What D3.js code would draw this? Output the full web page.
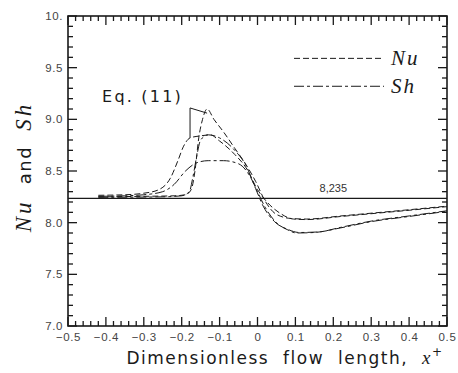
<!DOCTYPE html>
<html>
<head>
<meta charset="utf-8">
<script src="https://cdn.jsdelivr.net/npm/d3@7"></script>
<style>
  body { margin: 0; background: #fff; }
  svg { display: block; }
</style>
</head>
<body>
<svg id="chart" width="458" height="373"></svg>
<script>
// tick labels as printed on the figure
const xTickValues = [-0.5, -0.4, -0.3, -0.2, -0.1, 0, 0.1, 0.2, 0.3, 0.4, 0.5];
const xTickLabels = ["\u22120.5", "\u22120.4", "\u22120.3", "\u22120.2", "\u22120.1", "0", "0.1", "0.2", "0.3", "0.4", "0.5"];
const yTickValues = [7, 7.5, 8, 8.5, 9, 9.5, 10];
const yTickLabels = ["7.0", "7.5", "8.0", "8.5", "9.0", "9.5", "10."];

// fully developed value
const refValue = 8.235;

// Nu, gradual rise
const nuGradual = [
  [-0.42, 8.265], [-0.35, 8.27], [-0.3, 8.285], [-0.26, 8.32], [-0.23, 8.43],
  [-0.21, 8.6], [-0.195, 8.74], [-0.178, 8.82], [-0.15, 8.84], [-0.125, 8.85],
  [-0.1, 8.79], [-0.06, 8.66], [-0.03, 8.53], [0.0, 8.32], [0.025, 8.2],
  [0.06, 8.09], [0.095, 8.035], [0.13, 8.03], [0.22, 8.06], [0.31, 8.09],
  [0.4, 8.12], [0.5, 8.155]
];
// Sh, gradual rise
const shGradual = [
  [-0.42, 8.255], [-0.35, 8.26], [-0.3, 8.27], [-0.25, 8.3], [-0.22, 8.37],
  [-0.19, 8.5], [-0.16, 8.58], [-0.13, 8.6], [-0.09, 8.6], [-0.05, 8.57],
  [-0.02, 8.45], [0.0, 8.3], [0.02, 8.15], [0.05, 8.0], [0.08, 7.93],
  [0.103, 7.9], [0.15, 7.905], [0.22, 7.95], [0.3, 8.01], [0.4, 8.06], [0.5, 8.11]
];
// Nu, steep rise
const nuSteep = [
  [-0.42, 8.25], [-0.3, 8.255], [-0.22, 8.26], [-0.19, 8.27], [-0.175, 8.32],
  [-0.165, 8.5], [-0.155, 8.82], [-0.145, 9.0], [-0.133, 9.1], [-0.115, 9.0],
  [-0.09, 8.88], [-0.06, 8.72], [-0.03, 8.56], [-0.005, 8.4], [0.02, 8.21],
  [0.05, 8.08], [0.09, 8.04], [0.13, 8.035], [0.22, 8.065], [0.31, 8.095],
  [0.4, 8.125], [0.5, 8.16]
];
// Sh, steep rise
const shSteep = [
  [-0.42, 8.245], [-0.25, 8.25], [-0.2, 8.26], [-0.18, 8.3], [-0.17, 8.45],
  [-0.16, 8.65], [-0.15, 8.8], [-0.13, 8.85], [-0.1, 8.82], [-0.06, 8.7],
  [-0.03, 8.55], [-0.005, 8.33], [0.015, 8.16], [0.045, 8.01], [0.08, 7.935],
  [0.11, 7.905], [0.16, 7.91], [0.22, 7.955], [0.3, 8.015], [0.4, 8.065], [0.5, 8.115]
];
// Eq. (11) segment
const eq11 = [[-0.178, 8.82], [-0.178, 9.11], [-0.133, 9.06]];

const svg = d3.select("#chart");
const margin = { top: 16, right: 11, bottom: 47, left: 68 };
const W = 458, H = 373;

const x = d3.scaleLinear().domain([-0.5, 0.5]).range([margin.left, W - margin.right]);
const y = d3.scaleLinear().domain([7, 10]).range([H - margin.bottom, margin.top]);

const ink = "#1a1a1a";
const tickFont = "'Liberation Sans', Arial, sans-serif";
const x0 = x(-0.5), x1 = x(0.5), y0 = y(7), y1 = y(10);

// inward ticks on all four sides
const isMajorX = v => Math.abs(v * 10 - Math.round(v * 10)) < 1e-6;
const isMajorY = v => Math.abs(v * 2 - Math.round(v * 2)) < 1e-6;
const ticks = svg.append("g").attr("stroke", ink).attr("stroke-width", 1.3);
ticks.append("g").selectAll("line").data(x.ticks(50)).join("line")
  .attr("x1", d => x(d)).attr("x2", d => x(d))
  .attr("y1", y0).attr("y2", d => y0 - (isMajorX(d) ? 9 : 5));
ticks.append("g").selectAll("line").data(x.ticks(50)).join("line")
  .attr("x1", d => x(d)).attr("x2", d => x(d))
  .attr("y1", y1).attr("y2", d => y1 + (isMajorX(d) ? 9 : 5));
ticks.append("g").selectAll("line").data(y.ticks(30)).join("line")
  .attr("y1", d => y(d)).attr("y2", d => y(d))
  .attr("x1", x0).attr("x2", d => x0 + (isMajorY(d) ? 9 : 5));
ticks.append("g").selectAll("line").data(y.ticks(30)).join("line")
  .attr("y1", d => y(d)).attr("y2", d => y(d))
  .attr("x1", x1).attr("x2", d => x1 - (isMajorY(d) ? 9 : 5));

// tick labels through the axis generators
svg.append("g")
  .attr("class", "xaxis")
  .attr("transform", `translate(0,${y0})`)
  .call(d3.axisBottom(x).tickValues(xTickValues).tickSize(0).tickPadding(7)
    .tickFormat((d, i) => xTickLabels[i]));
svg.append("g")
  .attr("class", "yaxis")
  .attr("transform", `translate(${x0},0)`)
  .call(d3.axisLeft(y).tickValues(yTickValues).tickSize(0).tickPadding(5)
    .tickFormat((d, i) => yTickLabels[i]));

svg.selectAll(".domain").remove();
svg.selectAll(".tick line").remove();
svg.selectAll(".tick text")
  .attr("font-family", tickFont)
  .attr("font-size", 11.5)
  .attr("letter-spacing", 0.6)
  .attr("fill", "#444");
svg.selectAll(".yaxis .tick text").attr("dy", "0.3em");

// frame
svg.append("rect")
  .attr("x", x0).attr("y", y1)
  .attr("width", x1 - x0).attr("height", y0 - y1)
  .attr("fill", "none").attr("stroke", ink).attr("stroke-width", 1.6);

// reference line
svg.append("line")
  .attr("x1", x0).attr("x2", x1)
  .attr("y1", y(refValue)).attr("y2", y(refValue))
  .attr("stroke", ink).attr("stroke-width", 1.2);
svg.append("text")
  .attr("x", x(0.2)).attr("y", y(refValue) - 6)
  .attr("text-anchor", "middle")
  .attr("font-family", tickFont).attr("font-size", 11).attr("fill", "#333")
  .text(d3.format(".3f")(refValue).replace(".", ","));

const line = d3.line().x(d => x(d[0])).y(d => y(d[1])).curve(d3.curveMonotoneX);
const nuDash = "6,3";
const shDash = "10,3,3,3";

const series = [
  { data: nuGradual, dash: nuDash },
  { data: shGradual, dash: shDash },
  { data: nuSteep, dash: nuDash },
  { data: shSteep, dash: shDash }
];
svg.append("g")
  .selectAll("path")
  .data(series)
  .join("path")
    .attr("d", d => line(d.data))
    .attr("fill", "none")
    .attr("stroke", ink)
    .attr("stroke-width", 1)
    .attr("stroke-dasharray", d => d.dash);

svg.append("path")
  .attr("d", d3.line().x(d => x(d[0])).y(d => y(d[1]))(eq11))
  .attr("fill", "none").attr("stroke", ink).attr("stroke-width", 1);

svg.append("text")
  .attr("x", x(-0.41)).attr("y", y(9.17))
  .attr("font-family", "'DejaVu Sans', sans-serif").attr("font-size", 16)
  .attr("letter-spacing", 2.2).attr("fill", ink)
  .text("Eq. (11)");

// legend
const legend = [
  { label: "Nu", dash: nuDash, v: 9.59 },
  { label: "Sh", dash: shDash, v: 9.32 }
];
const lg = svg.append("g").selectAll("g").data(legend).join("g")
  .attr("transform", d => `translate(0,${y(d.v)})`);
lg.append("line")
  .attr("x1", 294).attr("x2", 384)
  .attr("stroke", ink).attr("stroke-width", 1)
  .attr("stroke-dasharray", d => d.dash);
lg.append("text")
  .attr("x", 391).attr("y", 7)
  .attr("font-family", "'Liberation Serif', 'DejaVu Serif', serif")
  .attr("font-style", "italic").attr("font-size", 21).attr("letter-spacing", 2)
  .attr("fill", ink)
  .text(d => d.label);

// axis titles
const xt = svg.append("text")
  .attr("x", 285).attr("y", 364)
  .attr("text-anchor", "middle")
  .attr("font-family", "'DejaVu Sans', sans-serif").attr("font-size", 17)
  .attr("letter-spacing", 1.5).attr("word-spacing", 7).attr("fill", ink);
xt.append("tspan").text("Dimensionless flow length, ");
xt.append("tspan")
  .attr("font-family", "'Liberation Serif', serif").attr("font-style", "italic").attr("font-size", 19)
  .text("x");
xt.append("tspan").attr("dy", -8).attr("font-size", 12).text("+");

const yt = svg.append("text")
  .attr("transform", "translate(31,167) rotate(-90)")
  .attr("text-anchor", "middle")
  .attr("font-family", "'DejaVu Sans', sans-serif").attr("font-size", 18)
  .attr("letter-spacing", 1.5).attr("word-spacing", 8).attr("fill", ink);
yt.append("tspan")
  .attr("font-family", "'Liberation Serif', serif").attr("font-style", "italic").attr("font-size", 23)
  .attr("letter-spacing", 3)
  .text("Nu");
yt.append("tspan").text(" and ");
yt.append("tspan")
  .attr("font-family", "'Liberation Serif', serif").attr("font-style", "italic").attr("font-size", 23)
  .attr("letter-spacing", 3)
  .text("Sh");
</script>
</body>
</html>
